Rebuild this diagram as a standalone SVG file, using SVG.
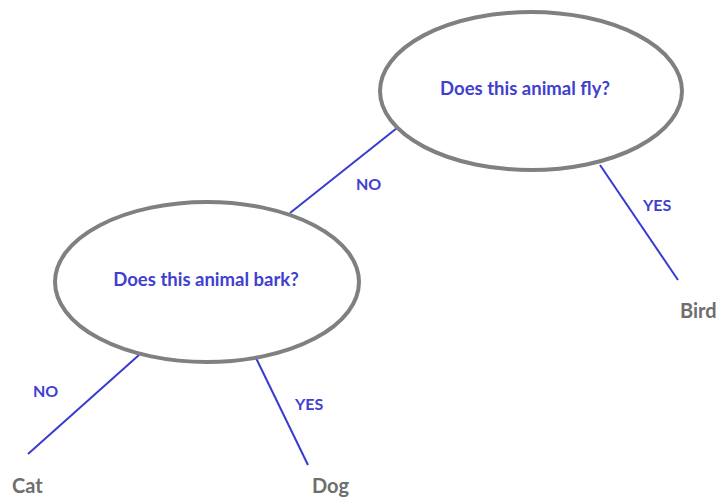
<svg xmlns="http://www.w3.org/2000/svg" width="721" height="497" viewBox="0 0 721 497">
  <style>
    .q { fill: #ffffff; stroke: #808080; stroke-width: 4; }
    .qt { font-family: Lato, "Open Sans", sans-serif; font-weight: bold; font-size: 18.5px; fill: #4040d0; text-anchor: middle; }
    .edge { stroke: #3a3ad0; stroke-width: 2; fill: none; }
    .lbl { font-family: Lato, "Open Sans", sans-serif; font-weight: bold; font-size: 16px; fill: #4040d0; }
    .leaf { font-family: Lato, "Open Sans", sans-serif; font-weight: bold; font-size: 20px; fill: #6e6e6e; }
  </style>
  <rect width="721" height="497" fill="#ffffff"/>

  <g id="edges">
    <line class="edge" x1="290" y1="213" x2="397" y2="128"/>
    <line class="edge" x1="600" y1="165" x2="678" y2="280"/>
    <line class="edge" x1="139" y1="355" x2="28" y2="454"/>
    <line class="edge" x1="256" y1="358" x2="308" y2="465"/>
    <text class="lbl" x="356" y="190">NO</text>
    <text class="lbl" x="643" y="211">YES</text>
    <text class="lbl" x="33" y="397">NO</text>
    <text class="lbl" x="295" y="410">YES</text>
  </g>

  <g id="q-fly">
    <ellipse class="q" cx="531" cy="91" rx="151" ry="79"/>
    <text class="qt" x="525" y="95">Does this animal fly?</text>
  </g>

  <g id="q-bark">
    <ellipse class="q" cx="207" cy="282" rx="152" ry="80"/>
    <text class="qt" x="206" y="286">Does this animal bark?</text>
  </g>

  <g id="leaf-bird"><text class="leaf" x="680" y="318">Bird</text></g>
  <g id="leaf-cat"><text class="leaf" x="12" y="493">Cat</text></g>
  <g id="leaf-dog"><text class="leaf" x="312" y="493">Dog</text></g>
</svg>
